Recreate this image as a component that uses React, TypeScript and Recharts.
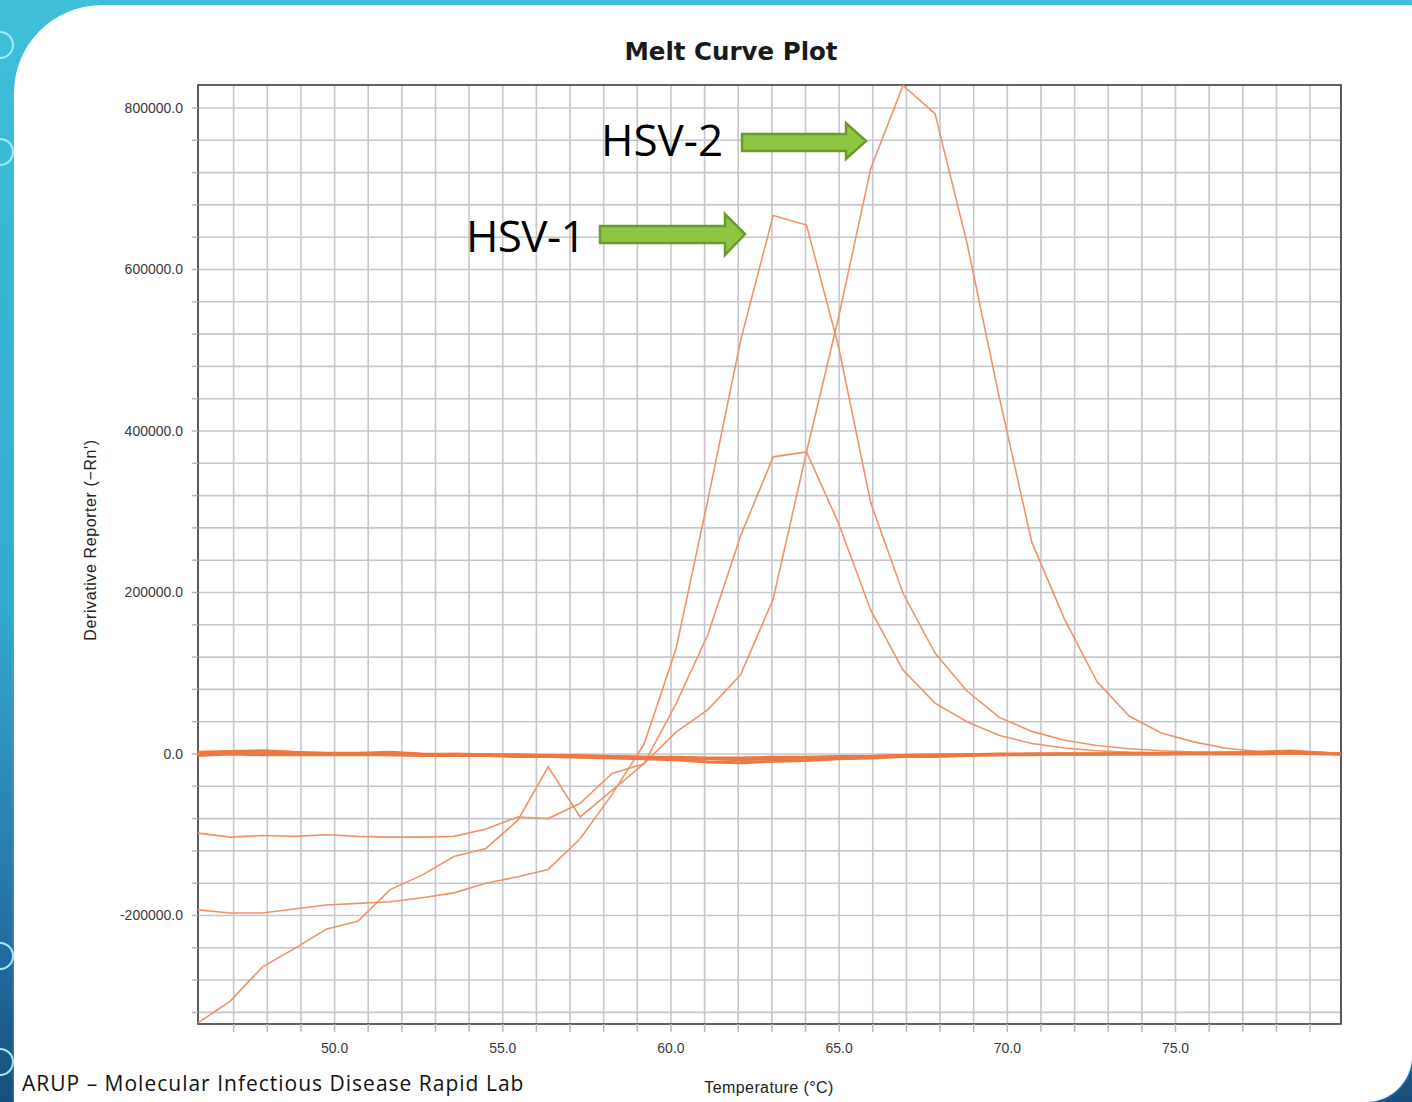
import { CartesianGrid, Line, LineChart, ReferenceArea, XAxis, YAxis } from "recharts";

// melt temperatures (°C) where the instrument sampled
const temps = [
  45.94, 46.9, 47.85, 48.8, 49.75, 50.7, 51.65, 52.6, 53.55, 54.5, 55.45, 56.35, 57.3,
  58.25, 59.2, 60.15, 61.1, 62.07, 63.04, 64.03, 64.98, 65.94, 66.9, 67.85, 68.8, 69.77,
  70.73, 71.7, 72.66, 73.62, 74.58, 75.54, 76.5, 77.46, 78.42, 79.38, 79.92,
];

// HSV-1, weak sample (starts lowest, has the spike near 56)
const hsv1Low = [
  -333000, -306000, -264000, -241000, -217000, -207000, -168000, -150000, -127000, -117000,
  -82000, -16000, -78000, -45000, -12000, 62000, 148000, 270000, 368000, 374000, 286000,
  178000, 104000, 63000, 40000, 23000, 13000, 7500, 4000, 2000, 1000, 500, 0, 0, 0, 0, 0,
];

// HSV-1, strong sample
const hsv1High = [
  -193000, -197000, -197000, -192000, -187000, -185000, -183000, -178000, -172000, -160000,
  -152000, -143000, -105000, -50000, 12000, 130000, 315000, 512000, 667000, 655000, 505000,
  311000, 199000, 125000, 78000, 45000, 28000, 17000, 10500, 6500, 4000, 2500, 1500, 800,
  400, 0, 0,
];

// HSV-2
const hsv2 = [
  -98000, -103000, -101000, -102000, -100000, -102000, -103000, -103000, -102000, -93000,
  -78000, -80000, -61000, -24000, -12000, 27000, 55000, 98000, 192000, 374000, 540000,
  725000, 828000, 793000, 633000, 440000, 262000, 167000, 90000, 47000, 26000, 15000, 7000,
  3000, 4500, 2000, 0,
];

// negative wells, hugging zero
const negA = [
  2000, 3000, 4000, 2000, 1000, 1000, 2000, 0, -1000, -1000, -2000, -2000, -3000, -3000,
  -4000, -5000, -6000, -7000, -6000, -5000, -4000, -3000, -2000, -2000, -1000, 0, 0, 0, 0,
  1000, 1000, 1000, 1500, 2000, 3000, 1000, 0,
];
const negB = [
  -2000, 0, -1000, -1000, -1000, -1000, -1000, -2000, -2000, -2000, -3000, -3000, -4000,
  -5000, -6000, -7000, -10000, -11000, -9000, -8000, -6000, -5000, -3000, -3000, -2000,
  -1000, -1000, 0, 0, 0, 0, 0, 0, 0, 1000, 0, 0,
];
const negC = [
  0, 1000, 2000, 0, 0, 0, -1000, -1000, 0, -1000, -1000, -2000, -2000, -3000, -4000, -4000,
  -5000, -5000, -4000, -4000, -3000, -3000, -2000, -1000, -1000, -1000, 0, 0, 0, 0, 0, 1000,
  1000, 1000, 2000, 1000, 0,
];

const xTicks = Array.from({ length: 33 }, (_, i) => 47 + i);
const yTicks = Array.from({ length: 29 }, (_, i) => -320000 + i * 40000);

const data = temps.map((t, i) => ({
  t,
  hsv1Low: hsv1Low[i],
  hsv1High: hsv1High[i],
  hsv2: hsv2[i],
  negA: negA[i],
  negB: negB[i],
  negC: negC[i],
}));

const THIN = "#f0936a";
const BAND = "#ec7842";
const tickFont = { fontSize: 14, fill: "#3a3a3a", fontFamily: "'Liberation Sans', Arial, sans-serif" };

function Ring({ top }: { top: number }) {
  return (
    <div
      style={{
        position: "absolute",
        left: -14,
        top: top - 14,
        width: 24,
        height: 24,
        borderRadius: "50%",
        border: "2px solid #9eeef5",
      }}
    />
  );
}

export default function App() {
  return (
    <div
      style={{
        position: "absolute",
        left: 0,
        top: 0,
        width: 1412,
        height: 1102,
        overflow: "hidden",
        background: "linear-gradient(to bottom, #3ec0d8 0%, #34a9cf 55%, #246fa3 85%, #174e7c 100%)",
      }}
    >
      <div
        style={{
          position: "absolute",
          left: 14,
          top: 5,
          right: 0,
          bottom: 0,
          background: "#fff",
          borderTopLeftRadius: 88,
          borderBottomRightRadius: 46,
          boxShadow: "0 0 3px #5ab0e8",
        }}
      />
      <Ring top={45} />
      <Ring top={152} />
      <Ring top={956} />
      <Ring top={1062} />

      <div style={{ position: "absolute", left: 0, top: 0 }}>
        <LineChart width={1412} height={1102} data={data} margin={{ top: 85, right: 71, bottom: 0, left: 0 }}>
          <CartesianGrid stroke="#c6c6cc" strokeWidth={1.6} />
          <XAxis
            dataKey="t"
            type="number"
            domain={[45.94, 79.92]}
            ticks={xTicks}
            allowDataOverflow
            height={78}
            interval={0}
            axisLine={false}
            tickLine={{ stroke: "#b8b8b8", strokeWidth: 1.5 }}
            tickSize={8}
            tickMargin={11}
            tick={tickFont}
            tickFormatter={(v: number) => (v % 5 === 0 ? v.toFixed(1) : "")}
          />
          <YAxis
            type="number"
            domain={[-334400, 828500]}
            ticks={yTicks}
            allowDataOverflow
            width={198}
            interval={0}
            axisLine={false}
            tickLine={{ stroke: "#b8b8b8", strokeWidth: 1.5 }}
            tickSize={6}
            tickMargin={9}
            tick={tickFont}
            tickFormatter={(v: number) => (v % 200000 === 0 ? v.toFixed(1) : "")}
          />
          <Line type="linear" dataKey="hsv1Low" stroke={THIN} strokeWidth={1.6} dot={false} isAnimationActive={false} />
          <Line type="linear" dataKey="hsv1High" stroke={THIN} strokeWidth={1.6} dot={false} isAnimationActive={false} />
          <Line type="linear" dataKey="hsv2" stroke={THIN} strokeWidth={1.6} dot={false} isAnimationActive={false} />
          <Line type="linear" dataKey="negA" stroke={BAND} strokeWidth={3} dot={false} isAnimationActive={false} />
          <Line type="linear" dataKey="negB" stroke={BAND} strokeWidth={3} dot={false} isAnimationActive={false} />
          <Line type="linear" dataKey="negC" stroke={BAND} strokeWidth={3} dot={false} isAnimationActive={false} />
          <ReferenceArea
            x1={45.94}
            x2={79.92}
            y1={-334400}
            y2={828500}
            fill="none"
            fillOpacity={0}
            stroke="#3b3b3b"
            strokeWidth={1.6}
          />
        </LineChart>
      </div>

      <svg
        width={1412}
        height={1102}
        style={{ position: "absolute", left: 0, top: 0, pointerEvents: "none" }}
      >
        <text
          x={731}
          y={51}
          textAnchor="middle"
          dominantBaseline="central"
          fontFamily="'DejaVu Sans', Verdana, sans-serif"
          fontWeight="bold"
          fontSize={24.5}
          fill="#1a1a1a"
        >
          Melt Curve Plot
        </text>
        <text
          x={769}
          y={1087}
          textAnchor="middle"
          dominantBaseline="central"
          fontFamily="'Liberation Sans', Arial, sans-serif"
          fontSize={16}
          letterSpacing={0.4}
          fill="#222"
        >
          Temperature (°C)
        </text>
        <text
          transform="translate(90 540) rotate(-90)"
          textAnchor="middle"
          dominantBaseline="central"
          fontFamily="'Liberation Sans', Arial, sans-serif"
          fontSize={16}
          letterSpacing={0.6}
          fill="#222"
        >
          Derivative Reporter (−Rn')
        </text>

        <text
          x={601}
          y={139}
          dominantBaseline="central"
          fontFamily="'Open Sans', sans-serif"
          fontSize={44}
          fill="#000"
        >
          HSV-2
        </text>
        <polygon
          points="742,134 846,134 846,123 866,141 846,159 846,151 742,151"
          fill="#8dc641"
          stroke="#6a9a2c"
          strokeWidth={2.5}
          strokeLinejoin="miter"
        />
        <text
          x={466}
          y={235}
          dominantBaseline="central"
          fontFamily="'Open Sans', sans-serif"
          fontSize={44}
          letterSpacing={-0.6}
          fill="#000"
        >
          HSV-1
        </text>
        <polygon
          points="600,226 725,226 725,214 745,234 725,255 725,243 600,243"
          fill="#8dc641"
          stroke="#6a9a2c"
          strokeWidth={2.5}
          strokeLinejoin="miter"
        />

        <text
          x={22}
          y={1083}
          dominantBaseline="central"
          fontFamily="'Open Sans', sans-serif"
          fontSize={21}
          letterSpacing={1}
          fill="#111"
        >
          ARUP – Molecular Infectious Disease Rapid Lab
        </text>
      </svg>
    </div>
  );
}
